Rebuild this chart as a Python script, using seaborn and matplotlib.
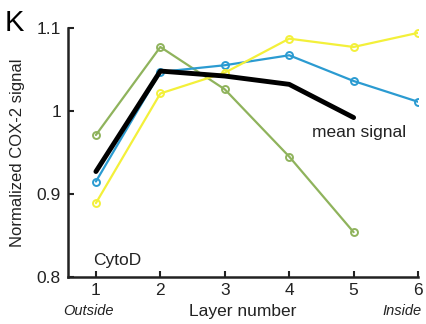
import matplotlib
matplotlib.use("Agg")
import matplotlib.pyplot as plt
import seaborn as sns
import pandas as pd

layers = [1, 2, 3, 4, 5, 6]
green_vals = [0.971, 1.077, 1.026, 0.945, 0.854]
blue_vals = [0.915, 1.047, 1.055, 1.067, 1.036, 1.011]
yellow_vals = [0.889, 1.021, 1.046, 1.087, 1.077, 1.094]
mean_vals = [0.927, 1.048, 1.042, 1.032, 0.992]

sns.set_style("ticks")
plt.rcParams["font.family"] = ["Liberation Sans", "DejaVu Sans"]

fig = plt.figure(figsize=(4.27, 3.24), dpi=100)
ax = fig.add_axes([0.159, 0.145, 0.82, 0.769])

series = [
    (green_vals, "#8fb35c"),
    (blue_vals, "#2b9bd1"),
    (yellow_vals, "#f3f03a"),
]
for vals, col in series:
    df = pd.DataFrame({"layer": layers[:len(vals)], "signal": vals})
    sns.lineplot(data=df, x="layer", y="signal", ax=ax, color=col, lw=1.6,
                 marker="o", markersize=5, markerfacecolor="none",
                 markeredgecolor=col, markeredgewidth=1.4)

df_mean = pd.DataFrame({"layer": layers[:len(mean_vals)], "signal": mean_vals})
sns.lineplot(data=df_mean, x="layer", y="signal", ax=ax, color="black", lw=3.5)

ax.set_xlim(0.565, 6)
ax.set_ylim(0.8, 1.1)
ax.set_xticks(layers)
ax.set_yticks([0.8, 0.9, 1.0, 1.1])
ax.set_yticklabels(["0.8", "0.9", "1", "1.1"])
ax.tick_params(direction="in", length=4, width=1.5, labelsize=12.5, colors="#222222")
ax.tick_params(axis="x", pad=4)
ax.tick_params(axis="y", pad=5)
for s in ["top", "right"]:
    ax.spines[s].set_visible(False)
for s in ["left", "bottom"]:
    ax.spines[s].set_linewidth(1.8)
    ax.spines[s].set_color("#222222")

lab_y = -0.1365
ax.set_xlabel("Layer number", fontsize=12.5, color="#222222")
ax.xaxis.set_label_coords(0.5, lab_y)
ax.xaxis.label.set_va("center")
ax.set_ylabel("Normalized COX-2 signal", fontsize=12, labelpad=8, color="#222222")

ax.text(0.885, lab_y, "Outside", transform=ax.get_xaxis_transform(), ha="center",
        va="center", fontsize=10.5, style="italic", color="#222222")
ax.text(6.06, lab_y, "Inside", transform=ax.get_xaxis_transform(), ha="right",
        va="center", fontsize=10.5, style="italic", color="#222222")
ax.text(4.354, 0.969, "mean signal", fontsize=12.5, color="#222222")
ax.text(0.953, 0.8145, "CytoD", fontsize=12.5, color="#222222")
fig.text(0.012, 0.905, "K", fontsize=21, color="black")

fig.savefig("out.png", dpi=100)
